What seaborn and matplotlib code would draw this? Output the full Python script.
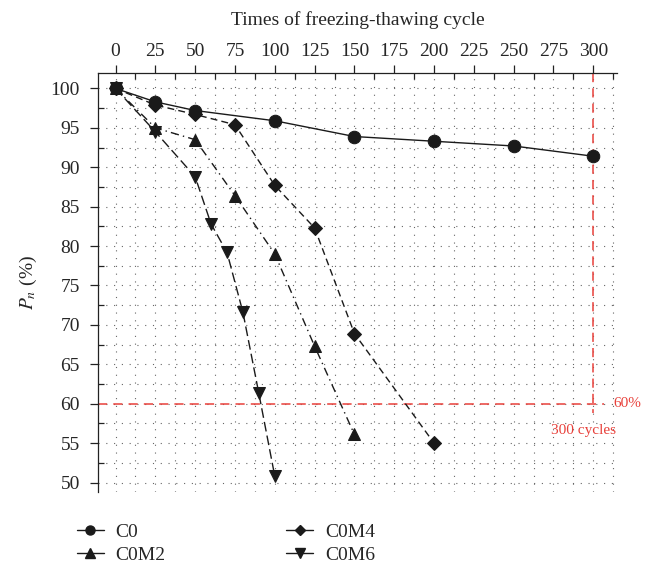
import matplotlib
matplotlib.use("Agg")
import matplotlib.pyplot as plt
from matplotlib.lines import Line2D
from matplotlib.ticker import MultipleLocator
import seaborn as sns
import pandas as pd

# ---- data ----
c0_x = [0, 25, 50, 100, 150, 200, 250, 300]
c0_y = [100, 98.3, 97.2, 95.9, 93.9, 93.3, 92.7, 91.4]

c0m2_x = [0, 25, 50, 75, 100, 125, 150]
c0m2_y = [100, 95.0, 93.5, 86.4, 79.0, 67.3, 56.1]

c0m4_x = [0, 25, 50, 75, 100, 125, 150, 200]
c0m4_y = [100, 97.9, 96.7, 95.4, 87.7, 82.3, 68.9, 55.0]

c0m6_x = [0, 25, 50, 60, 70, 80, 90, 100]
c0m6_y = [100, 94.5, 88.8, 82.8, 79.2, 71.6, 61.3, 50.8]

x_ticks = [0, 25, 50, 75, 100, 125, 150, 175, 200, 225, 250, 275, 300]
y_ticks = [50, 55, 60, 65, 70, 75, 80, 85, 90, 95, 100]
threshold_pct = 60
threshold_cycles = 300

sns.set_theme(style="white")
plt.rcParams["font.family"] = ["Liberation Serif", "DejaVu Serif"]
plt.rcParams["mathtext.fontset"] = "stix"

fig = plt.figure(figsize=(6.49, 5.71), dpi=100)
ax = fig.add_axes([0.151, 0.1384, 0.80, 0.7343])

series = [
    ("C0", c0_x, c0_y, "o", (None, None), 9),
    ("C0M2", c0m2_x, c0m2_y, "^", (6, 3, 1, 3), 9),
    ("C0M4", c0m4_x, c0m4_y, "D", (5, 3), 7.5),
    ("C0M6", c0m6_x, c0m6_y, "v", (7, 3), 9),
]

for name, xs, ys, mk, dash, ms in series:
    df = pd.DataFrame({"x": xs, "y": ys})
    sns.lineplot(data=df, x="x", y="y", ax=ax, color="#1a1a1a", lw=1.0,
                 marker=mk, markersize=ms, markeredgecolor="#1a1a1a",
                 markerfacecolor="#1a1a1a", legend=False, zorder=3)
    line = ax.lines[-1]
    if dash[0] is not None:
        line.set_dashes(dash)

# red guide lines
red = "#e8403a"
ax.plot([-11, 307], [threshold_pct, threshold_pct], color=red, lw=1.1,
        dashes=(6, 4), zorder=2)
ax.plot([threshold_cycles, threshold_cycles], [102, 58.8], color=red, lw=1.1,
        dashes=(6, 4), zorder=2)
ax.text(312.5, threshold_pct, "60%", color=red, fontsize=11,
        va="center", ha="left", clip_on=False)
ax.text(293.7, 56.6, "300 cycles", color=red, fontsize=11,
        va="center", ha="center")

ax.set_xlim(-11, 315)
ax.set_ylim(48.8, 102)
ax.xaxis.set_ticks_position("top")
ax.xaxis.set_label_position("top")
ax.set_xticks(x_ticks)
ax.set_yticks(y_ticks)
ax.xaxis.set_minor_locator(MultipleLocator(12.5))
ax.yaxis.set_minor_locator(MultipleLocator(2.5))
ax.tick_params(axis="both", which="major", direction="out", length=6,
               width=0.9, labelsize=14, color="#222222", pad=3)
ax.tick_params(axis="y", which="major", pad=7)
ax.tick_params(axis="both", which="minor", direction="in", length=4,
               width=0.9, color="#222222")
ax.tick_params(axis="x", which="both", top=True, bottom=False)
ax.tick_params(axis="y", which="both", left=True, right=False)

ax.set_xlabel("Times of freezing-thawing cycle", fontsize=14, labelpad=13)
ax.set_ylabel(r"$P_n$ (%)", fontsize=14, labelpad=8)

for s in ["right", "bottom"]:
    ax.spines[s].set_visible(False)
for s in ["left", "top"]:
    ax.spines[s].set_linewidth(0.9)
    ax.spines[s].set_color("#222222")

ax.grid(True, which="both", color="#666666", lw=0.8, linestyle=(0, (1, 6)))
ax.set_axisbelow(True)

handles = [
    Line2D([], [], color="#1a1a1a", lw=1.0, marker="o", markersize=6.5),
    Line2D([], [], color="#1a1a1a", lw=1.0, marker="^", markersize=7),
    Line2D([], [], color="#1a1a1a", lw=1.0, marker="D", markersize=5.5),
    Line2D([], [], color="#1a1a1a", lw=1.0, marker="v", markersize=7),
]
labels = ["C0", "C0M2", "C0M4", "C0M6"]
fig.legend(handles, labels, loc="upper left", bbox_to_anchor=(0.118, 1 - 523 / 571),
           ncol=2, frameon=False, fontsize=14, handlelength=1.4,
           handletextpad=0.6, columnspacing=6.2, labelspacing=0.3,
           borderpad=0, borderaxespad=0)

fig.savefig("out.png", dpi=100)
